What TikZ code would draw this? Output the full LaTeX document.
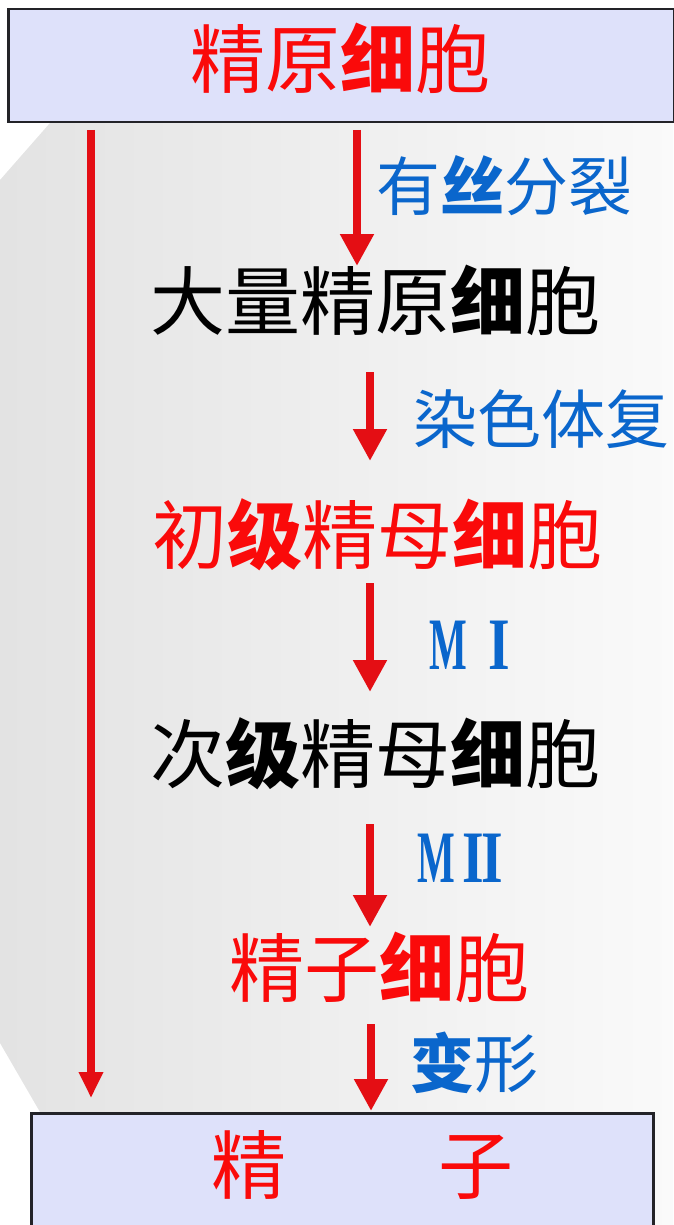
\documentclass[tikz,border=0pt]{standalone}
\usepackage{fontspec}
\newfontfamily\cjk{Noto Sans CJK SC}
\newfontfamily\romfont{Liberation Serif}
\usetikzlibrary{arrows.meta,calc}
\definecolor{txtred}{RGB}{250,10,10}
\definecolor{txtblue}{RGB}{10,102,204}
\definecolor{arrred}{RGB}{228,14,20}
\definecolor{boxfill}{RGB}{222,225,250}
\definecolor{boxline}{RGB}{35,35,40}
\tikzset{
  bigtxt/.style={inner sep=0pt,font=\cjk\fontsize{75}{75}\selectfont},
  lbltxt/.style={inner sep=0pt,anchor=west,text=txtblue,font=\cjk\fontsize{64}{64}\selectfont},
  romtxt/.style={inner sep=0pt,anchor=west,text=txtblue,font=\romfont\bfseries\fontsize{74}{74}\selectfont},
  titlebox/.style={draw=boxline,line width=2.5pt,fill=boxfill},
  arr/.style={draw=arrred,line width=8.5pt,-{Triangle[width=32pt,length=32pt]}},
  sidearr/.style={draw=arrred,line width=7.5pt,-{Triangle[width=23pt,length=26pt]}},
}
\begin{document}
\begin{tikzpicture}[x=1pt,y=-1pt]
\useasboundingbox (0,0) rectangle (673,1225);
% background
\shade[left color=black!11,right color=black!2]
  (50,123) -- (673,123) -- (673,1225) -- (40,1225) -- (40,1112) -- (0,1043) -- (0,180) -- cycle;
% boxes
\node[titlebox,minimum width=666pt,minimum height=113pt,anchor=north west] (top) at (7,8) {};
\node[text=txtred,bigtxt] (topt) at (340,58) {精原{\bfseries 细}胞};
\node[titlebox,minimum width=622pt,minimum height=130pt,anchor=north west] (bot) at (30,1112) {};
\node[text=txtred,bigtxt,anchor=west] (bott) at (211,1165) {精\hspace{152pt}子};
% main texts
\node[bigtxt,anchor=west] (t1) at (150,300) {大量精原{\bfseries 细}胞};
\node[bigtxt,anchor=west,text=txtred] (t2) at (152,535) {初{\bfseries 级}精母{\bfseries 细}胞};
\node[bigtxt,anchor=west] (t3) at (150,754) {次{\bfseries 级}精母{\bfseries 细}胞};
\node[bigtxt,anchor=west,text=txtred] (t4) at (229,967) {精子{\bfseries 细}胞};
% labels
\node[lbltxt] (l1) at (376,186) {有{\bfseries 丝}分裂};
\node[lbltxt] (l2) at (413,419) {染色体复};
\node[romtxt] (l3) at (429,645) {\scalebox{0.54}[1]{M}\hspace{22pt}\scalebox{0.75}[1]{I}};
\node[romtxt] (l4) at (417,858) {\scalebox{0.54}[1]{M}\hspace{8pt}\scalebox{0.75}[1]{I}\hspace{-3pt}\scalebox{0.75}[1]{I}};
\node[lbltxt] (l5) at (410,1063) {{\bfseries 变}形};
% arrow coordinates
\coordinate (a0s) at (91,130);  \coordinate (a0e) at (91,1098);
\coordinate (a1s) at (357,130); \coordinate (a1e) at (357,266);
\coordinate (a2s) at (370,372); \coordinate (a2e) at (370,461);
\coordinate (a3s) at (370,583); \coordinate (a3e) at (370,692);
\coordinate (a4s) at (370,824); \coordinate (a4e) at (370,927);
\coordinate (a5s) at (371,1024); \coordinate (a5e) at (371,1111);
\draw[sidearr] (a0s) -- (a0e);
\draw[arr] (a1s) -- (a1e);
\draw[arr] (a2s) -- (a2e);
\draw[arr] (a3s) -- (a3e);
\draw[arr] (a4s) -- (a4e);
\draw[arr] (a5s) -- (a5e);
\end{tikzpicture}
\end{document}
